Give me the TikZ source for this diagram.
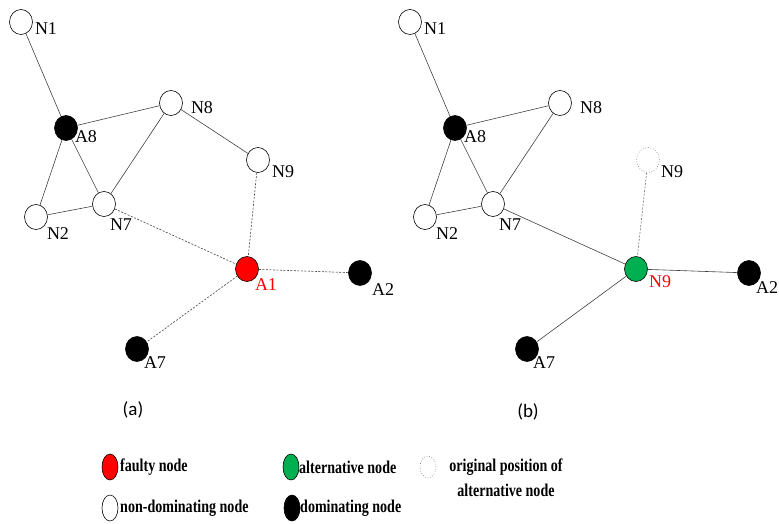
\documentclass[tikz,border=0pt]{standalone}
\usepackage{fontspec}
\usepackage{graphicx}
\setmainfont{Liberation Serif}
\newfontfamily\capfont{Carlito}
\usetikzlibrary{shapes.geometric}
\definecolor{altgreen}{RGB}{0,176,80}
\newcommand\legword[1]{\scalebox{0.78}[1]{#1}}
\begin{document}
\begin{tikzpicture}[x=1pt,y=-1pt,
	vertex/.style={draw, ellipse, inner sep=0pt, minimum width=23pt, minimum height=25pt, line width=0.6pt},
	plain/.style={vertex, fill=white},
	dom/.style={vertex, fill=black},
	faulty/.style={vertex, fill=red},
	alt/.style={vertex, fill=altgreen},
	ghost/.style={vertex, draw=black!55, dotted},
	tag/.style={inner sep=0pt, font=\fontsize{18}{20}\selectfont},
	link/.style={draw=black!75, line width=0.6pt},
	broken/.style={link, dash pattern=on 2pt off 1.5pt},
	legsym/.style={draw, ellipse, inner sep=0pt, minimum width=16pt, minimum height=26pt, line width=0.6pt},
	legtext/.style={inner sep=0pt, anchor=west, font=\fontsize{18}{20}\selectfont\bfseries},
	caption/.style={inner sep=0pt, font=\capfont\fontsize{19}{21}\selectfont}]
	\useasboundingbox (0,0) rectangle (779,524);
	% panel (a)
	\node (aN1) [plain] at (21,22) {};
	\node (aA8) [dom] at (66,128) {};
	\node (aN8) [plain] at (171,103) {};
	\node (aN9) [plain] at (258,160) {};
	\node (aN2) [plain] at (36,217) {};
	\node (aN7) [plain] at (104,204) {};
	\node (aA1) [faulty] at (247,269) {};
	\node (aA2) [dom] at (360,273) {};
	\node (aA7) [dom] at (137,349) {};
	\node (taN1) [tag] at (46,29) {N1};
	\node (taA8) [tag] at (86,137) {A8};
	\node (taN8) [tag] at (202,108) {N8};
	\node (taN9) [tag] at (283,172) {N9};
	\node (taN2) [tag] at (58,234) {N2};
	\node (taN7) [tag] at (121,225) {N7};
	\node (taA1) [tag, text=red] at (266,285) {A1};
	\node (taA2) [tag] at (383,290) {A2};
	\node (taA7) [tag] at (155,363) {A7};
	\draw [link] (aN1) -- (aA8);
	\draw [link] (aA8) -- (aN8);
	\draw [link] (aA8) -- (aN2);
	\draw [link] (aA8) -- (aN7);
	\draw [link] (aN2) -- (aN7);
	\draw [link] (aN7) -- (aN8);
	\draw [link] (aN8) -- (aN9);
	\draw [broken] (aN7) -- (aA1);
	\draw [broken] (aN9) -- (aA1);
	\draw [broken] (aA1) -- (aA2);
	\draw [broken] (aA1) -- (aA7);
	\node (capa) [caption] at (133,410) {(a)};
	% panel (b)
	\begin{scope}[xshift=389pt]
		\node (bN1) [plain] at (21,22) {};
		\node (bA8) [dom] at (66,128) {};
		\node (bN8) [plain] at (171,103) {};
		\node (bN9) [ghost] at (259,160) {};
		\node (bN2) [plain] at (36,217) {};
		\node (bN7) [plain] at (104,204) {};
		\node (bAlt) [alt] at (247,269) {};
		\node (bA2) [dom] at (360,273) {};
		\node (bA7) [dom] at (138,349) {};
		\node (tbN1) [tag] at (46,29) {N1};
		\node (tbA8) [tag] at (86,137) {A8};
		\node (tbN8) [tag] at (202,108) {N8};
		\node (tbN9) [tag] at (283,172) {N9};
		\node (tbN2) [tag] at (58,234) {N2};
		\node (tbN7) [tag] at (121,225) {N7};
		\node (tbAlt) [tag, text=red] at (271,282) {N9};
		\node (tbA2) [tag] at (378,288) {A2};
		\node (tbA7) [tag] at (155,363) {A7};
		\draw [link] (bN1) -- (bA8);
		\draw [link] (bA8) -- (bN8);
		\draw [link] (bA8) -- (bN2);
		\draw [link] (bA8) -- (bN7);
		\draw [link] (bN2) -- (bN7);
		\draw [link] (bN7) -- (bN8);
		\draw [link] (bN7) -- (bAlt);
		\draw [link] (bAlt) -- (bA2);
		\draw [link] (bAlt) -- (bA7);
		\draw [broken, draw=black!55] (bN9) -- (bAlt);
		\node (capb) [caption] at (139,412) {(b)};
	\end{scope}
	% legend
	\node (kRed) [legsym, fill=red] at (110,467) {};
	\node (kRedT) [legtext] at (120,467) {\legword{faulty node}};
	\node (kGreen) [legsym, fill=altgreen] at (291,467) {};
	\node (kGreenT) [legtext] at (299,467) {\legword{alternative node}};
	\node (kGhost) [legsym, draw=black!55, dotted, minimum height=22pt] at (428,467) {};
	\node (kGhostT) [inner sep=0pt, anchor=north, align=center, font=\fontsize{18}{25}\selectfont\bfseries] at (506,459) {\legword{original position of}\\\legword{alternative node}};
	\node (kWhite) [legsym, fill=white] at (110,508) {};
	\node (kWhiteT) [legtext] at (120,508) {\legword{non-dominating node}};
	\node (kBlack) [legsym, fill=black] at (292,508) {};
	\node (kBlackT) [legtext] at (300,508) {\legword{dominating node}};
\end{tikzpicture}
\end{document}
